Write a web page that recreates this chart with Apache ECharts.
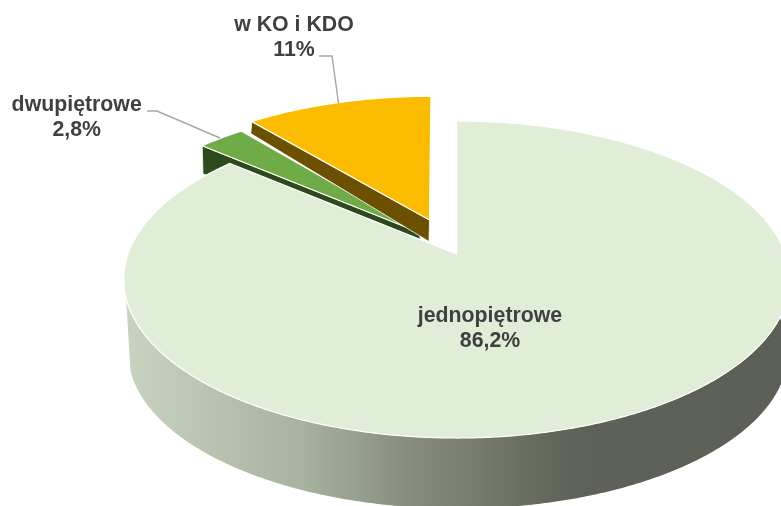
<!DOCTYPE html>
<html>
<head>
<meta charset="utf-8">
<style>html,body{margin:0;padding:0;background:#fff}#c{width:781px;height:506px}</style>
<script src="https://cdn.jsdelivr.net/npm/echarts@6/dist/echarts.min.js"></script>
</head>
<body>
<div id="c"></div>
<script>
// ---- data ----
const categories = ['jednopiętrowe', 'dwupiętrowe', 'w KO i KDO'];
const values = [86.2, 2.8, 11];
const valueLabels = ['86,2%', '2,8%', '11%'];

// ---- perspective of the pie disc ----
const K = 0.161, A = 328.6, B = 154.4;
const FONT = 'bold 21.3px "Liberation Sans", Arial, sans-serif';
const LEADER = '#A6A6A6';

// ---- per-slice look (position of each exploded slice, colours, walls, label) ----
const looks = [
  { vx: 456.7, vy: 254, sx: 1, sy: 1, lean: 0, z: 30, top: '#E0EDD7',
    label: [490, 329] },
  { vx: 420, vy: 232.7, sx: 0.96, sy: 0.96, lean: 0, z: 10, top: '#6FAC47', wall: '#2C4A1C',
    edge: 'start', wallOuter: [0.8, 28], wallInner: [0, 28],
    label: [76.7, 118], leader: [[147, 111], [157, 111], [220, 138]] },
  { vx: 429.5, vy: 220, sx: 0.96, sy: 0.93, lean: -0.011, z: 50, top: '#FBBC00', wall: '#6B5000',
    edge: 'start', wallOuter: [-1, 12], wallInner: [-0.5, 21.5],
    label: [294, 38], leader: [[319, 56], [332, 56], [338.5, 103]] }
];
// outer wall of the large slice: lower rim of the disc
const mainWall = { dx: 1.3, dy: 73, sx: 0.991, sy: 0.987, from: 62, to: 254 };

function project(deg, l) {
  const t = deg * Math.PI / 180, y = -Math.cos(t), d = 1 - K * y;
  const px = A * Math.sin(t) / d, py = B * y / d;
  return [l.vx + l.sx * px + (l.lean || 0) * py, l.vy + l.sy * py];
}
function arc(from, to, l) {
  const pts = [], n = Math.max(2, Math.ceil(Math.abs(to - from) * 2));
  for (let i = 0; i <= n; i++) pts.push(project(from + (to - from) * i / n, l));
  return pts;
}
const total = values.reduce((a, b) => a + b, 0);

function renderItem(params, api) {
  const i = params.dataIndex, l = looks[i];
  let before = 0;
  for (let j = 0; j < i; j++) before += values[j];
  const a0 = before / total * 360, a1 = a0 + api.value(0) / total * 360;
  const vertex = [l.vx, l.vy];
  const outerArc = arc(a0, a1, l);
  const children = [];

  if (i === 0) {
    const lw = Object.assign({}, l, { vx: l.vx + mainWall.dx, vy: l.vy + mainWall.dy, sx: mainWall.sx, sy: mainWall.sy });
    const pts = arc(mainWall.from, mainWall.to, l).concat(arc(mainWall.to, mainWall.from, lw));
    children.push({
      type: 'polygon', z2: l.z - 1, shape: { points: pts },
      style: {
        fill: new echarts.graphic.LinearGradient(124, 0, 781, 0, [
          { offset: 0, color: '#C8D3C0' },
          { offset: 0.27, color: '#A8B2A0' },
          { offset: 0.44, color: '#868C7C' },
          { offset: 0.68, color: '#5E6258' },
          { offset: 1, color: '#5B5F55' }
        ], true)
      }
    });
  } else {
    const out = project(a0, l);
    children.push({
      type: 'polygon', z2: l.z - 1,
      shape: { points: [out, vertex,
        [vertex[0] + l.wallInner[0], vertex[1] + l.wallInner[1]],
        [out[0] + l.wallOuter[0], out[1] + l.wallOuter[1]]] },
      style: { fill: l.wall, stroke: '#FFFFFF', lineWidth: 0.8 }
    });
  }
  children.push({
    type: 'polygon', z2: l.z, shape: { points: [vertex].concat(outerArc) },
    style: { fill: l.top, stroke: '#FFFFFF', lineWidth: 1.2, lineJoin: 'miter' }
  });
  if (l.leader) {
    children.push({
      type: 'polyline', z2: 70, shape: { points: l.leader },
      style: { stroke: LEADER, fill: 'none', lineWidth: 1.4 }
    });
  }
  children.push({
    type: 'text', z2: 80,
    style: {
      x: l.label[0], y: l.label[1],
      text: categories[i] + '\n' + valueLabels[i],
      font: FONT, fill: '#404040', lineHeight: 25,
      align: 'center', verticalAlign: 'middle'
    }
  });
  return { type: 'group', children };
}

const chart = echarts.init(document.getElementById('c'), null, { renderer: 'canvas' });
chart.setOption({
  animation: false,
  backgroundColor: '#FFFFFF',
  series: [{
    type: 'custom',
    coordinateSystem: 'none',
    renderItem,
    silent: true,
    clip: false,
    data: values.map((v, i) => ({ name: categories[i], value: [v] }))
  }]
});
</script>
</body>
</html>
